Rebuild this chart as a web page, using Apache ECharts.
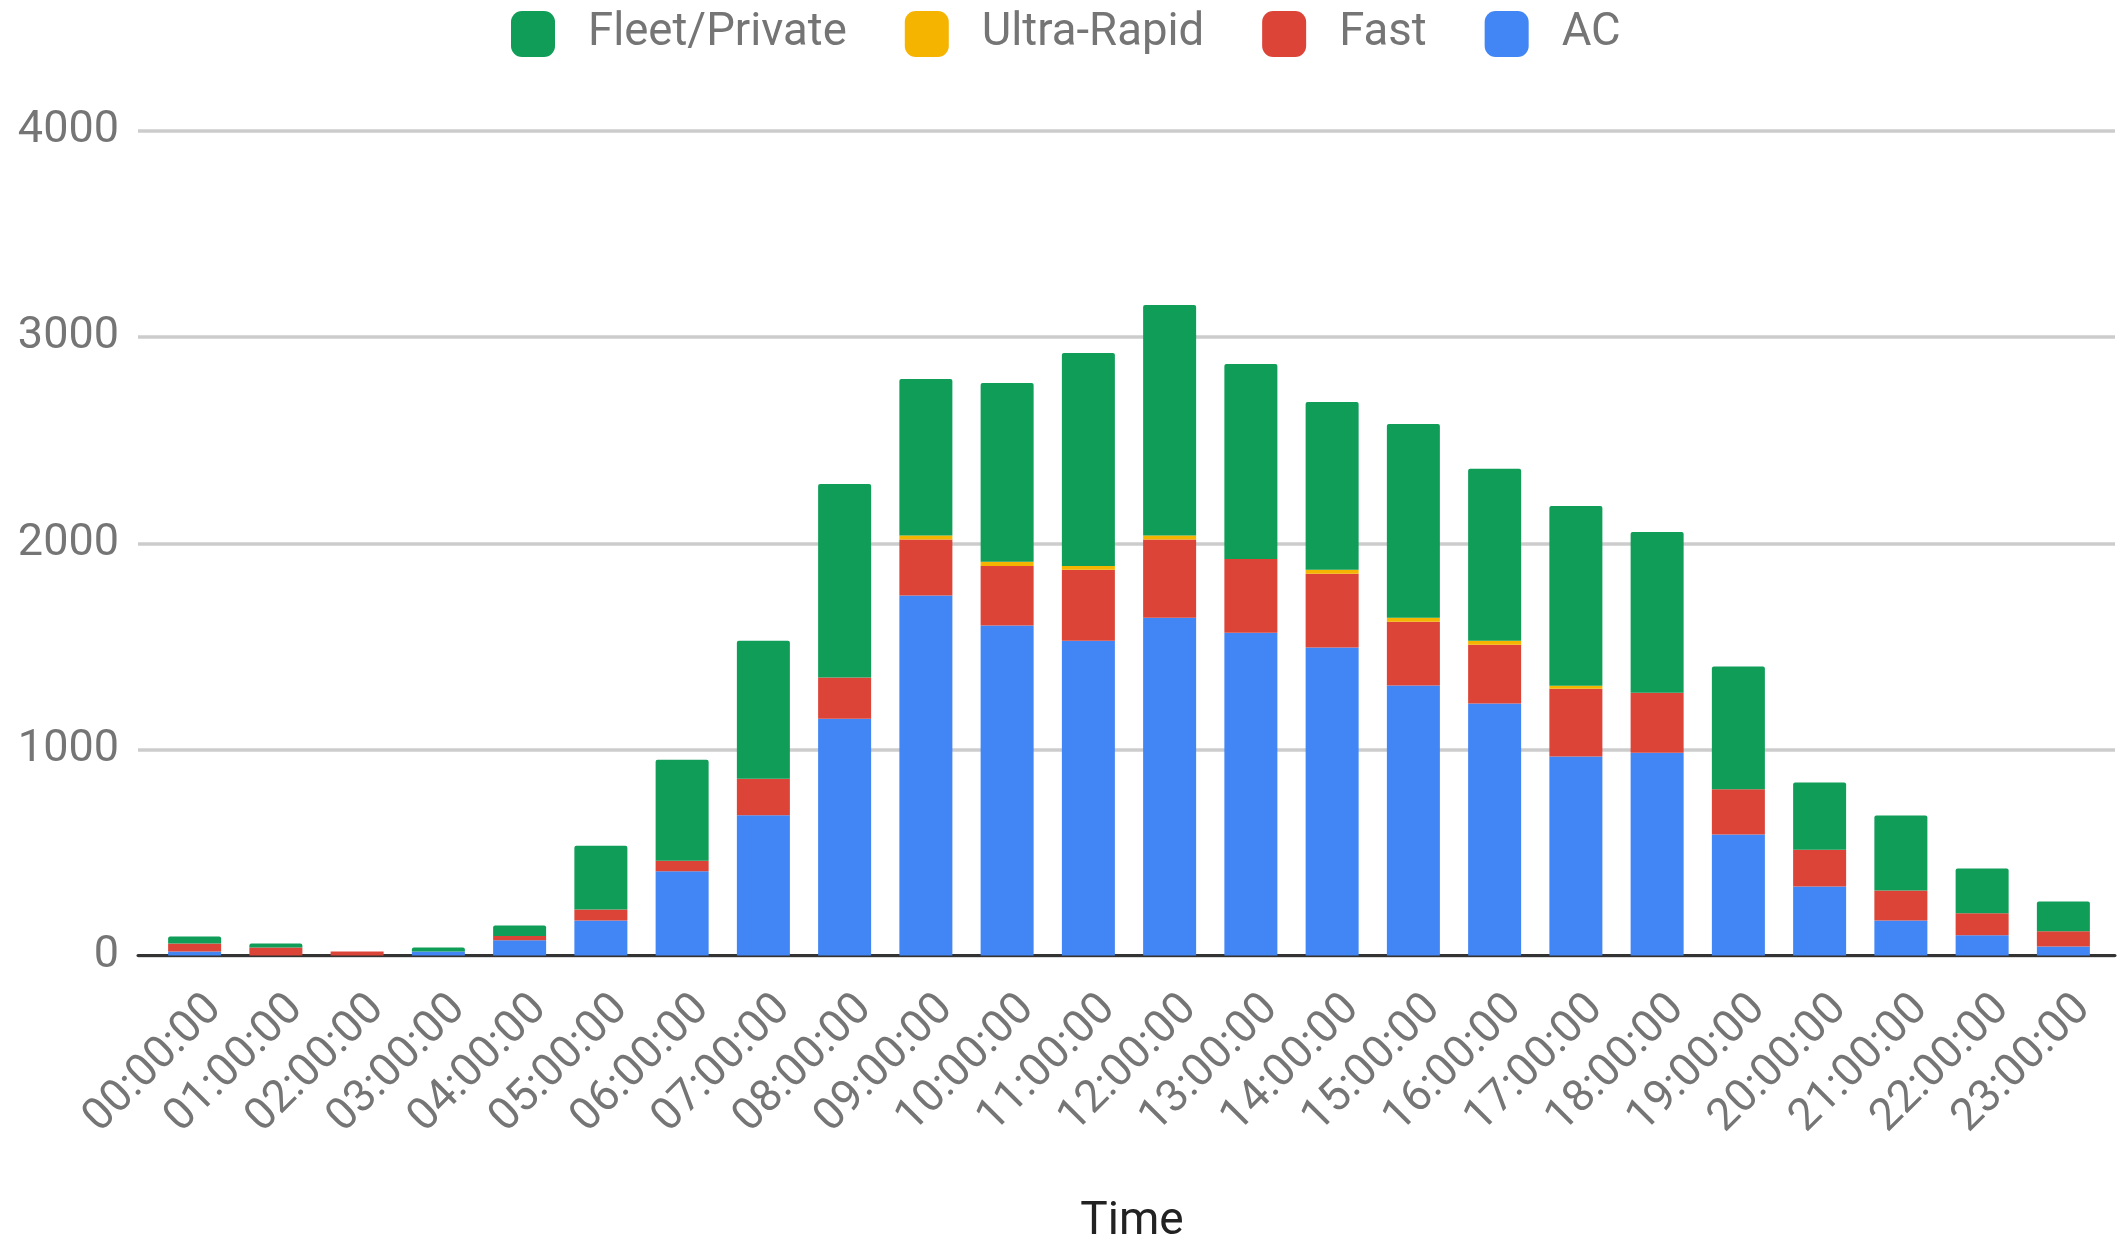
<!DOCTYPE html>
<html>
<head>
<meta charset="utf-8">
<script src="https://cdn.jsdelivr.net/npm/echarts@6/dist/echarts.min.js"></script>
<style>
html,body{margin:0;padding:0;background:#fff;}
#chart{width:2119px;height:1239px;}
</style>
</head>
<body>
<div id="chart"></div>
<script>
const categories = ["00:00:00","01:00:00","02:00:00","03:00:00","04:00:00","05:00:00","06:00:00","07:00:00","08:00:00","09:00:00","10:00:00","11:00:00","12:00:00","13:00:00","14:00:00","15:00:00","16:00:00","17:00:00","18:00:00","19:00:00","20:00:00","21:00:00","22:00:00","23:00:00"];
const acValues = [19,0,0,19,74,170,409,680,1149,1746,1601,1527,1638,1566,1494,1310,1223,965,984,587,335,170,98,44];
const fastValues = [39,39,19,0,20,53,51,178,200,272,289,344,380,358,358,309,285,329,291,220,178,145,107,74];
const ultraValues = [0,0,0,0,0,0,0,0,0,19,20,19,19,0,19,19,19,15,0,0,0,0,0,0];
const fleetValues = [34,19,0,20,51,310,490,669,939,760,868,1033,1119,946,814,941,834,872,780,595,326,364,217,144];
const yTicks = [0,1000,2000,3000,4000];

const FONT = 'Roboto';
const chart = echarts.init(document.getElementById('chart'), null, {renderer:'canvas'});
const option = {
  animation: false,
  backgroundColor: '#ffffff',
  textStyle: {fontFamily: FONT},
  legend: {
    data: ['Fleet/Private','Ultra-Rapid','Fast','AC'],
    left: 506, top: 6,
    itemWidth: 44, itemHeight: 46, itemGap: 58,
    icon: 'roundRect',
    textStyle: {fontFamily: FONT, fontSize: 45.5, color: '#757575', padding: [0,0,0,28]}
  },
  grid: [
    {left: 154, right: 15, top: 131, bottom: 283.5, outerBoundsMode: 'none', containLabel: false},
    {left: 138, right: 4, top: 131, bottom: 283.5, outerBoundsMode: 'none', containLabel: false},
    {left: 174, right: -5, top: 131, bottom: 283.5, outerBoundsMode: 'none', containLabel: false}
  ],
  xAxis: [
    {type: 'category', gridIndex: 0, data: categories,
     axisLine: {show: false}, axisTick: {show: false}, axisLabel: {show: false},
     name: 'Time', nameLocation: 'middle', nameGap: 244,
     nameTextStyle: {fontFamily: FONT, fontSize: 46, color: '#222222', padding: [0,0,0,6]}},
    {type: 'value', gridIndex: 1, min: 0, max: 1, show: true,
     axisLine: {show: true, lineStyle: {color: '#333333', width: 3}},
     axisTick: {show: false}, axisLabel: {show: false}, splitLine: {show: false}},
    {type: 'category', gridIndex: 2, data: categories,
     axisLine: {show: false}, axisTick: {show: false},
     axisLabel: {rotate: 45, margin: 47, interval: 0, fontFamily: FONT, fontSize: 45, color: '#757575'}}
  ],
  yAxis: [
    {type: 'value', gridIndex: 0, min: 0, max: 4000, interval: 1000, show: false},
    {type: 'value', gridIndex: 1, min: 0, max: 4000, interval: 1000,
     axisLine: {show: false}, axisTick: {show: false},
     axisLabel: {margin: 19, fontFamily: FONT, fontSize: 45, color: '#757575',
       formatter: v => yTicks.includes(v) ? String(v) : ''},
     splitLine: {show: true, lineStyle: {color: '#cccccc', width: 3.5}}},
    {type: 'value', gridIndex: 2, min: 0, max: 4000, show: false}
  ],
  series: [
    {name: 'AC', type: 'bar', stack: 'total', data: acValues, barWidth: 53,
     itemStyle: {color: '#4285f4'}},
    {name: 'Fast', type: 'bar', stack: 'total', data: fastValues, barWidth: 53,
     itemStyle: {color: '#db4437'}},
    {name: 'Ultra-Rapid', type: 'bar', stack: 'total', data: ultraValues, barWidth: 53,
     itemStyle: {color: '#f4b400'}},
    {name: 'Fleet/Private', type: 'bar', stack: 'total', data: fleetValues, barWidth: 53,
     itemStyle: {color: '#0f9d58', borderRadius: [2,2,0,0]}}
  ]
};
chart.setOption(option);
</script>
</body>
</html>
